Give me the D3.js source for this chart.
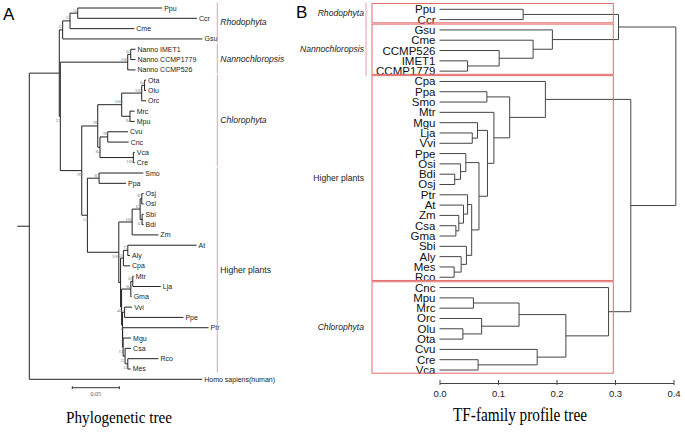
<!DOCTYPE html>
<html><head><meta charset="utf-8">
<script src="https://cdn.jsdelivr.net/npm/d3@7"></script>
<style>body{margin:0;background:#fff}svg{display:block}</style>
</head><body>
<svg id="c" width="685" height="435"></svg>
<script>
// ---------------- DATA ----------------
// Panel A: phylogenetic tree (Newick: support values as internal labels, branch lengths)
const phyloNewick =
 "(((((Ppu:0.0899,Ccr:0.1268)54:0.0082,Cme:0.0684)52:0.0078,Gsu:0.1487)32:0.0036," +
 "(((Nanno IMET1:0.0051,Nanno CCMP1779:0.0051)63:0.0032,Nanno CCMP526:0.0083)100:0.0717," +
 "(((((Ota:0.0016,Olu:0.0016)84:0.003,Orc:0.0046)100:0.0213,(Mrc:0.005,Mpu:0.005)94:0.0088)100:0.0255," +
 "((Cvu:0.0216,Cnc:0.0223)98:0.0082,(Vca:0.0015,Cre:0.0015)100:0.0355)84:0.0024)98:0.017," +
 "((Smo:0.0471,Ppa:0.0287)87:0.0124," +
 "((((Osj:0.0019,Osi:0.0019)81:0.0018,(Sbi:0.0016,Bdi:0.0016)67:0.0021)67:0.0085,Zm:0.0279)100:0.0142," +
 "(((At:0.0731,Aly:0.0024)72:0.0047,Cpa:0.0071)28:0.003," +
 "(((Mtr:0.0009,Lja:0.0298)69:0.0021,Gma:0.0009)84:0.0098," +
 "((Vvi:0.008,Ppe:0.0626)2:0.0023,(Ptr:0.0914,(Mgu:0.0085,(Csa:0.0064,(Rco:0.0326,Mes:0.003)59:0.0029)23:0.0021)15:0.0005)3:0.0002)4:0.0009)46:0.0011):0.0019)100:0.0334)53:0.006)99:0.0228)27:0.0011):0.0319," +
 "'Homo sapiens(human)':0.184);";
const scaleBarValue = 0.05;
const groupsA = [
  ["Rhodophyta", "Ppu", "Gsu"],
  ["Nannochloropsis", "Nanno IMET1", "Nanno CCMP526"],
  ["Chlorophyta", "Ota", "Cre"],
  ["Higher plants", "Smo", "Mes"]
];
// Panel B: TF-family profile dendrogram: [height, child, child]
const profileTree =
 [0.404,
  [0.306, [0.143, "Ppu", "Ccr"], [0.193, "Gsu", [0.160, "Cme", [0.102, "CCMP526", [0.048, "IMET1", "CCMP1779"]]]]],
  [0.327,
   [0.181, "Cpa", [0.120, [0.081, "Ppa", "Smo"], [0.093, "Mtr", [0.082,
      [0.065, "Mgu", [0.056, "Lja", "Vvi"]],
      [0.0675, [0.045, "Ppe", [0.036, "Osi", [0.026, "Bdi", "Osj"]]],
               [0.055, [0.048, "Ptr", [0.041, "At", [0.033, "Zm", [0.028, "Csa", "Gma"]]]],
                       [0.046, "Sbi", [0.037, "Aly", [0.025, "Mes", "Rco"]]]]]]]]],
   [0.289, "Cnc", [0.216, [0.136, [0.058, "Mpu", "Mrc"], [0.072, "Orc", [0.040, "Olu", "Ota"]]],
                          [0.167, "Cvu", [0.066, "Cre", "Vca"]]]]]];
const axisTicksB = [0.0, 0.1, 0.2, 0.3, 0.4];
const groupsB = [
  ["Rhodophyta", "Ppu", "Ccr"],
  ["Nannochloropsis", "Gsu", "CCMP1779"],
  ["Higher plants", "Cpa", "Rco"],
  ["Chlorophyta", "Cnc", "Vca"]
];
const bracketedB = ["Rhodophyta", "Nannochloropsis"];
const uprightGroups = ["Higher plants"];
const titles = ["Phylogenetic tree", "TF-family profile tree"];
const panelLetters = ["A", "B"];

// ---------------- HELPERS ----------------
function parseNewick(s){
  let i = 0;
  function node(){
    const n = {children: []};
    if (s[i] === '(') {
      i++; n.children.push(node());
      while (s[i] === ',') { i++; n.children.push(node()); }
      i++;
    }
    let lab = '';
    if (s[i] === "'") { i++; while (s[i] !== "'") lab += s[i++]; i++; }
    else while (i < s.length && !":,);".includes(s[i])) lab += s[i++];
    n.name = lab;
    n.length = 0;
    if (s[i] === ':') { i++; let v = ''; while (i < s.length && !",);".includes(s[i])) v += s[i++]; n.length = +v; }
    return n;
  }
  return node();
}

const svg = d3.select("#c");
const sans = "'Liberation Sans', Arial, sans-serif";
const serif = "'Liberation Serif', 'Times New Roman', serif";
const pink = "#e2a1b2";

// ---------------- PANEL A ----------------
const rootA = d3.hierarchy(parseNewick(phyloNewick), d => d.children.length ? d.children : null);
const leavesA = rootA.leaves();
const xA = d3.scaleLinear().domain([0, scaleBarValue]).range([29.3, 76.3]);
const yA = d3.scaleLinear().domain([0, leavesA.length - 1]).range([8, 379.3]);
rootA.each(n => { n.dist = n.parent ? n.parent.dist + n.data.length : 0; });
leavesA.forEach((l, i) => { l.idx = i; });
rootA.eachAfter(n => {
  n.px = xA(n.dist);
  n.py = n.children ? (n.children[0].py + n.children[n.children.length - 1].py) / 2 : yA(n.idx);
});
const gA = svg.append("g");
let pA = "";
rootA.each(n => {
  if (n.parent) pA += `M${n.parent.px},${n.py}H${n.px}`;
  if (n.children) pA += `M${n.px},${n.children[0].py}V${n.children[n.children.length - 1].py}`;
});
pA += `M${xA(0) - 12},${rootA.py}H${xA(0)}`;
gA.append("path").attr("d", pA).attr("fill", "none").attr("stroke", "#222").attr("stroke-width", 1);

gA.selectAll("text.leaf").data(leavesA).join("text")
  .attr("x", d => d.px + 2).attr("y", d => d.py + 2.5)
  .attr("font-family", sans).attr("font-size", 7).attr("fill", "#222")
  .text(d => d.data.name);

gA.selectAll("text.bs").data(rootA.descendants().filter(n => n.children && n.data.name))
  .join("text")
  .attr("x", d => d.px + 0.5)
  .attr("y", d => d.parent && d.parent.children[0] === d ? d.py - 1.5 : d.py + 5.5)
  .attr("text-anchor", "end")
  .attr("font-family", serif).attr("font-size", 5).attr("fill", "#777")
  .text(d => d.data.name);

// group brackets A
const leafYA = new Map(leavesA.map(l => [l.data.name, l.py]));
const gxA = 217.3;
groupsA.forEach(([name, a, b]) => {
  const y0 = leafYA.get(a) - 5.5, y1 = leafYA.get(b) + 3.5;
  gA.append("line").attr("x1", gxA).attr("x2", gxA).attr("y1", y0).attr("y2", y1)
    .attr("stroke", pink).attr("stroke-width", 1);
  gA.append("text").attr("x", gxA + 3).attr("y", (y0 + y1) / 2 + 3)
    .attr("font-family", sans).attr("font-size", 8.6).attr("fill", "#222")
    .attr("font-style", uprightGroups.includes(name) ? "normal" : "italic")
    .text(name);
});

// scale bar
const sbY = 387.7, sbX = 72.3, sbW = xA(scaleBarValue) - xA(0);
gA.append("path").attr("d", `M${sbX},${sbY}H${sbX + sbW}M${sbX},${sbY - 1.5}V${sbY + 1.5}M${sbX + sbW},${sbY - 1.5}V${sbY + 1.5}`)
  .attr("stroke", "#333").attr("fill", "none").attr("stroke-width", 1);
gA.append("text").attr("x", sbX + sbW / 2).attr("y", sbY + 8.5).attr("text-anchor", "middle")
  .attr("font-family", serif).attr("font-size", 6).attr("fill", "#555").text(String(scaleBarValue));

// ---------------- PANEL B ----------------
const rootB = d3.hierarchy(profileTree, d => Array.isArray(d) ? d.slice(1) : null);
const leavesB = rootB.leaves();
const xB = d3.scaleLinear().domain([0, 0.4]).range([439.5, 673.5]);
const yB = d3.scaleLinear().domain([0, leavesB.length - 1]).range([9.3, 370]);
leavesB.forEach((l, i) => { l.idx = i; });
rootB.eachAfter(n => {
  n.h = Array.isArray(n.data) ? n.data[0] : 0;
  n.px = xB(n.h);
  n.py = n.children ? (n.children[0].py + n.children[n.children.length - 1].py) / 2 : yB(n.idx);
});
const gB = svg.append("g");
let pB = "";
rootB.each(n => {
  if (n.parent) pB += `M${n.px},${n.py}H${n.parent.px}`;
  if (n.children) pB += `M${n.px},${n.children[0].py}V${n.children[n.children.length - 1].py}`;
});
gB.append("path").attr("d", pB).attr("fill", "none").attr("stroke", "#444").attr("stroke-width", 1);

gB.selectAll("text.leaf").data(leavesB).join("text")
  .attr("x", 435.5).attr("y", d => d.py + 4).attr("text-anchor", "end")
  .attr("font-family", sans).attr("font-size", 11.5).attr("fill", "#111")
  .text(d => d.data);

// boxes and group labels B
const leafYB = new Map(leavesB.map(l => [l.data, l.py]));
groupsB.forEach(([name, a, b]) => {
  const y0 = leafYB.get(a) - 5.8, y1 = leafYB.get(b) + 3.2;
  gB.append("rect").attr("x", 372).attr("y", y0).attr("width", 613.3 - 372).attr("height", y1 - y0)
    .attr("fill", "none").attr("stroke", "#e26a6a").attr("stroke-width", 1);
  if (bracketedB.includes(name)) {
    gB.append("line").attr("x1", 366).attr("x2", 366).attr("y1", y0 - 1).attr("y2", y1 + 2)
      .attr("stroke", pink).attr("stroke-width", 1);
  }
  gB.append("text").attr("x", 364).attr("y", (y0 + y1) / 2 + 3).attr("text-anchor", "end")
    .attr("font-family", sans).attr("font-size", 8.6).attr("fill", "#222")
    .attr("font-style", uprightGroups.includes(name) ? "normal" : "italic")
    .text(name);
});

// axis B
const axB = gB.append("g").attr("transform", "translate(0,383)")
  .call(d3.axisBottom(xB).tickValues(axisTicksB).tickFormat(d3.format(".1f")).tickSizeOuter(0).tickSizeInner(3).tickPadding(4.5));
axB.select(".domain").attr("stroke", "#444");
axB.selectAll(".tick line").attr("y1", -3).attr("y2", 2).attr("stroke", "#444");
axB.selectAll(".tick text").attr("font-family", sans).attr("font-size", 9.5).attr("fill", "#222");

// ---------------- TITLES ----------------
svg.append("text").attr("x", 119).attr("y", 423).attr("text-anchor", "middle")
  .attr("font-family", serif).attr("font-size", 17).attr("textLength", 106).attr("lengthAdjust", "spacingAndGlyphs")
  .text(titles[0]);
svg.append("text").attr("x", 520).attr("y", 421).attr("text-anchor", "middle")
  .attr("font-family", serif).attr("font-size", 18).attr("textLength", 134).attr("lengthAdjust", "spacingAndGlyphs")
  .text(titles[1]);
svg.append("text").attr("x", 3).attr("y", 20).attr("font-family", sans).attr("font-size", 17).text(panelLetters[0]);
svg.append("text").attr("x", 296).attr("y", 18).attr("font-family", sans).attr("font-size", 17).text(panelLetters[1]);
</script>
</body></html>
